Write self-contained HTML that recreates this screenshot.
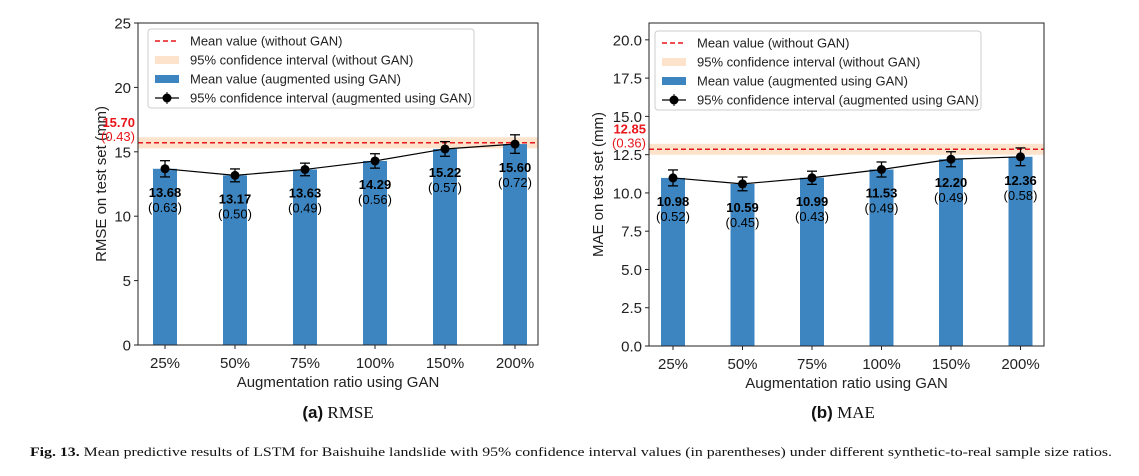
<!DOCTYPE html>
<html><head><meta charset="utf-8"><style>
body{margin:0;background:#fff;}
svg{display:block;font-family:"Liberation Sans",Arial,sans-serif;}
</style></head><body>
<svg id="s" width="1139" height="476"></svg>
<script>
const categories=["25%","50%","75%","100%","150%","200%"];
const rmseMeans=[13.68,13.17,13.63,14.29,15.22,15.60];
const rmseCI=[0.63,0.50,0.49,0.56,0.57,0.72];
const rmseBase=15.70, rmseBaseCI=0.43;
const rmseTicks=[0,5,10,15,20,25];
const maeMeans=[10.98,10.59,10.99,11.53,12.20,12.36];
const maeCI=[0.52,0.45,0.43,0.49,0.49,0.58];
const maeBase=12.85, maeBaseCI=0.36;
const maeTicks=[0,2.5,5,7.5,10,12.5,15,17.5,20];

const NS="http://www.w3.org/2000/svg";
const svg=document.getElementById('s');
function el(t,a,p){const e=document.createElementNS(NS,t);for(const k in a)e.setAttribute(k,a[k]);(p||svg).appendChild(e);return e;}
function txt(s,a,p){const e=el('text',a,p);e.textContent=s;return e;}

function panel(cfg){
  const g=el('g',{});
  
  
  const {L,R,T,B,ymax,c0,dx}=cfg;
  const y=v=>B-(v/ymax)*(B-T);
  const x=i=>c0+i*dx;
  // CI band
  const band=el('rect',{x:L,y:y(cfg.base+cfg.baseCI),width:R-L,height:y(cfg.base-cfg.baseCI)-y(cfg.base+cfg.baseCI),fill:'#fde3cc'},g);
  
  // bars
  cfg.means.forEach((m,i)=>{
    const r=el('rect',{x:x(i)-12,y:y(m),width:24,height:B-y(m),fill:'#3d85c0'},g);
    
    
  });
  // baseline line
  const bl=el('line',{x1:L,x2:R,y1:y(cfg.base),y2:y(cfg.base),stroke:'#e8161b','stroke-width':1.5,'stroke-dasharray':'5,3'},g);
  
  // line connecting
  el('polyline',{points:cfg.means.map((m,i)=>x(i)+','+y(m)).join(' '),fill:'none',stroke:'#000','stroke-width':1.2},g);
  cfg.means.forEach((m,i)=>{
    const hi=y(m+cfg.ci[i]),lo=y(m-cfg.ci[i]);
    el('line',{x1:x(i),x2:x(i),y1:hi,y2:lo,stroke:'#000','stroke-width':1.3},g);
    el('line',{x1:x(i)-5,x2:x(i)+5,y1:hi,y2:hi,stroke:'#000','stroke-width':1.3},g);
    el('line',{x1:x(i)-5,x2:x(i)+5,y1:lo,y2:lo,stroke:'#000','stroke-width':1.3},g);
    const c=el('circle',{cx:x(i),cy:y(m),r:4.5,fill:'#000'},g);
    
    
    txt(m.toFixed(2),{x:x(i),y:y(m)+28,'text-anchor':'middle','font-size':13,'font-weight':'bold'},g);
    txt('('+cfg.ci[i].toFixed(2)+')',{x:x(i),y:y(m)+43,'text-anchor':'middle','font-size':13},g);
  });
  // axes frame
  el('rect',{x:L,y:T,width:R-L,height:B-T,fill:'none',stroke:'#222','stroke-width':1},g);
  cfg.ticks.forEach(t=>{
    el('line',{x1:L-4,x2:L,y1:y(t),y2:y(t),stroke:'#222'},g);
    txt(cfg.fmt(t),{x:L-7,y:y(t)+5.5,'text-anchor':'end','font-size':15,fill:'#222'},g);
  });
  categories.forEach((c,i)=>{
    el('line',{x1:x(i),x2:x(i),y1:B,y2:B+4,stroke:'#222'},g);
    txt(c,{x:x(i),y:B+23,'text-anchor':'middle','font-size':15,fill:'#222'},g);
  });
  txt('Augmentation ratio using GAN',{x:(L+R)/2,y:B+42,'text-anchor':'middle','font-size':15,fill:'#222'},g);
  const yl=txt(cfg.ylabel,{x:0,y:0,'text-anchor':'middle','font-size':15,fill:'#222',transform:`translate(${cfg.ylx},${(T+B)/2}) rotate(-90)`},g);
  
  txt(cfg.base.toFixed(2),{x:L-3,y:y(cfg.base)-16,'text-anchor':'end','font-size':13,'font-weight':'bold',fill:'#e8161b'},g);
  txt('('+cfg.baseCI.toFixed(2)+')',{x:L-3,y:y(cfg.base)-2,'text-anchor':'end','font-size':13,fill:'#e8161b'},g);
  // legend
  const lg=el('g',{},g);
  
  const lx=cfg.lx, ly=cfg.ly;
  el('rect',{x:lx,y:ly,width:326,height:79,rx:3,fill:'#fff','fill-opacity':0.85,stroke:'#ccc'},lg);
  const rows=[ly+12,ly+31,ly+50,ly+69];
  el('line',{x1:lx+7,x2:lx+31,y1:rows[0],y2:rows[0],stroke:'#e8161b','stroke-width':1.5,'stroke-dasharray':'5,3'},lg);
  el('rect',{x:lx+7,y:rows[1]-4,width:24,height:8,fill:'#fde3cc'},lg);
  el('rect',{x:lx+7,y:rows[2]-4,width:24,height:8,fill:'#3d85c0'},lg);
  el('line',{x1:lx+7,x2:lx+31,y1:rows[3],y2:rows[3],stroke:'#000','stroke-width':1.2},lg);
  el('circle',{cx:lx+19,cy:rows[3],r:4.5,fill:'#000'},lg);
  el('line',{x1:lx+19,x2:lx+19,y1:rows[3]-6,y2:rows[3]+6,stroke:'#000'},lg);
  ['Mean value (without GAN)','95% confidence interval (without GAN)','Mean value (augmented using GAN)','95% confidence interval (augmented using GAN)'].forEach((s,i)=>{
    txt(s,{x:lx+42,y:rows[i]+4.5,'font-size':13,fill:'#222'},lg);
  });
  return g;
}
panel({name:'rmse-chart',L:138,R:538,T:23,B:345,ymax:25,c0:165,dx:70,means:rmseMeans,ci:rmseCI,base:rmseBase,baseCI:rmseBaseCI,ticks:rmseTicks,fmt:t=>String(t),ylabel:'RMSE on test set (mm)',ylx:106,lx:148,ly:29});
panel({name:'mae-chart',L:649,R:1044,T:23,B:346,ymax:21.1,c0:673,dx:69.5,means:maeMeans,ci:maeCI,base:maeBase,baseCI:maeBaseCI,ticks:maeTicks,fmt:t=>t.toFixed(1),ylabel:'MAE on test set (mm)',ylx:603,lx:655,ly:31});

const a=el('text',{x:338,y:418,'text-anchor':'middle','font-size':17,fill:'#111'});

a.innerHTML='<tspan font-weight="bold" font-family="Liberation Sans">(a)</tspan><tspan font-family="Liberation Serif"> RMSE</tspan>';
const b=el('text',{x:843,y:418,'text-anchor':'middle','font-size':17,fill:'#111'});

b.innerHTML='<tspan font-weight="bold" font-family="Liberation Sans">(b)</tspan><tspan font-family="Liberation Serif"> MAE</tspan>';
const cap=el('text',{x:30,y:456,'font-size':13,'font-family':'Liberation Serif',fill:'#111',textLength:1082,lengthAdjust:'spacingAndGlyphs'});

cap.innerHTML='<tspan font-weight="bold">Fig. 13.</tspan> Mean predictive results of LSTM for Baishuihe landslide with 95% confidence interval values (in parentheses) under different synthetic-to-real sample size ratios.';
</script>
</body></html>
